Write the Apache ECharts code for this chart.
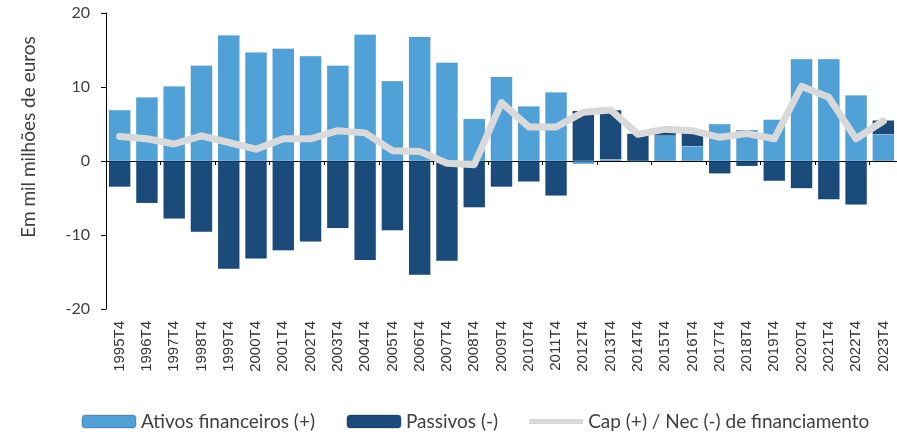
<!DOCTYPE html>
<html>
<head>
<meta charset="utf-8">
<script src="https://cdn.jsdelivr.net/npm/echarts@6/dist/echarts.min.js"></script>
<style>
  html, body { margin: 0; padding: 0; background: #fff; }
  #chart { width: 897px; height: 436px; }
</style>
</head>
<body>
<div id="chart"></div>
<script>
// periodos (anos, 4.o trimestre)
var categorias = ['1995T4','1996T4','1997T4','1998T4','1999T4','2000T4','2001T4','2002T4','2003T4','2004T4',
  '2005T4','2006T4','2007T4','2008T4','2009T4','2010T4','2011T4','2012T4','2013T4','2014T4',
  '2015T4','2016T4','2017T4','2018T4','2019T4','2020T4','2021T4','2022T4','2023T4'];

// em mil milhoes de euros
var ativos = [6.9, 8.6, 10.1, 12.9, 17.0, 14.7, 15.2, 14.2, 12.9, 17.1,
  10.8, 16.8, 13.3, 5.7, 11.4, 7.4, 9.3, -0.4, 0.2, -0.1,
  3.4, 2.0, 5.0, 4.2, 5.6, 13.8, 13.8, 8.9, 3.6];
var passivos = [-3.5, -5.7, -7.8, -9.6, -14.6, -13.2, -12.1, -10.9, -9.1, -13.4,
  -9.4, -15.4, -13.5, -6.3, -3.5, -2.8, -4.7, 6.8, 6.7, 3.7,
  0.8, 2.2, -1.7, -0.7, -2.7, -3.7, -5.2, -5.9, 1.9];
var capNec = [3.3, 3.0, 2.3, 3.4, 2.5, 1.6, 3.0, 3.0, 4.1, 3.8,
  1.4, 1.3, -0.3, -0.5, 7.9, 4.6, 4.6, 6.6, 6.9, 3.6,
  4.3, 4.1, 3.2, 3.7, 3.0, 10.1, 8.6, 3.0, 5.4];

var txt = '#404040';
var chart = echarts.init(document.getElementById('chart'));

var option = {
  animation: false,
  textStyle: { fontFamily: 'Lato', color: txt },
  grid: { left: 106, top: 13, width: 791, height: 296, containLabel: false },
  legend: {
    left: 76,
    top: 407,
    width: 821,
    itemWidth: 54,
    itemHeight: 13,
    itemGap: 31,
    textStyle: { fontFamily: 'Lato', fontSize: 19, color: txt },
    data: [
      { name: 'Ativos financeiros (+)' },
      { name: 'Passivos (-)' },
      {
        name: 'Cap (+) / Nec (-) de financiamento',
        icon: 'path://M0,0 L54,0 L54,5 L0,5 Z',
        itemStyle: { color: '#D9D9D9' }
      }
    ]
  },
  xAxis: [
    {
      type: 'category',
      data: categorias,
      position: 'bottom',
      axisLine: { onZero: true, lineStyle: { color: '#000', width: 1 } },
      axisTick: { show: true, length: 4, lineStyle: { color: '#000' } },
      axisLabel: { show: false }
    },
    {
      type: 'category',
      data: categorias,
      position: 'bottom',
      axisLine: { show: false, onZero: false },
      axisTick: { show: false },
      axisLabel: {
        rotate: 90,
        interval: 0,
        margin: 12,
        fontFamily: 'Liberation Sans',
        fontSize: 15,
        color: '#333'
      }
    }
  ],
  yAxis: {
    type: 'value',
    min: -20,
    max: 20,
    interval: 10,
    name: 'Em mil milhões de euros',
    nameLocation: 'middle',
    nameGap: 68,
    nameRotate: 90,
    nameTextStyle: { fontFamily: 'Lato', fontSize: 19, color: txt, padding: [0, 0, 0, 48] },
    axisLine: { show: true, lineStyle: { color: '#000', width: 1 } },
    axisTick: { show: true, length: 5, lineStyle: { color: '#000' } },
    axisLabel: { margin: 16, fontFamily: 'Lato', fontSize: 16, color: txt },
    splitLine: { show: false }
  },
  series: [
    {
      name: 'Ativos financeiros (+)',
      type: 'bar',
      stack: 'total',
      barWidth: '80%',
      data: ativos,
      itemStyle: { color: '#4FA1D8', borderColor: 'rgba(0,0,0,0.12)', borderWidth: 0.5 }
    },
    {
      name: 'Passivos (-)',
      type: 'bar',
      stack: 'total',
      barWidth: '80%',
      data: passivos,
      itemStyle: { color: '#1A4B7A', borderColor: 'rgba(0,0,0,0.12)', borderWidth: 0.5 }
    },
    {
      name: 'Cap (+) / Nec (-) de financiamento',
      type: 'line',
      data: capNec,
      symbol: 'none',
      z: 5,
      lineStyle: { color: '#D9D9D9', width: 7, cap: 'round', join: 'round' },
      itemStyle: { color: '#D9D9D9' }
    }
  ]
};

chart.setOption(option);
</script>
</body>
</html>
